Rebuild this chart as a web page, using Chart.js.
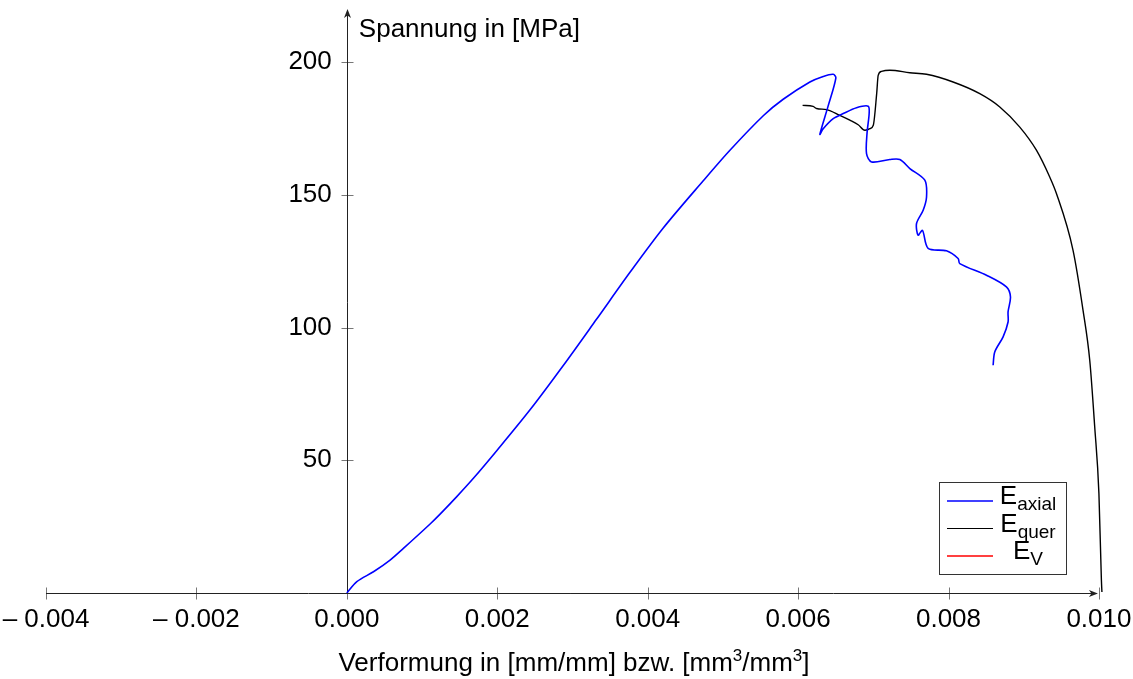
<!DOCTYPE html>
<html>
<head>
<meta charset="utf-8">
<script src="https://cdn.jsdelivr.net/npm/chart.js@4/dist/chart.umd.min.js"></script>
<style>
  html, body { margin: 0; padding: 0; background: #fff; }
  #wrap { width: 1133px; height: 679px; position: relative; }
</style>
</head>
<body>
<div id="wrap"><canvas id="c"></canvas></div>
<script>
// strain [mm/mm] / stress [MPa]
const axialStrain = [0, 0.000133, 0.000354, 0.000575, 0.000752, 0.001107, 0.001240, 0.001462, 0.001683, 0.001993,
  0.002436, 0.002878, 0.003322, 0.003765, 0.004207, 0.004739, 0.005094, 0.005537, 0.005802, 0.006157,
  0.006334, 0.006467, 0.006502, 0.006400, 0.006290, 0.006334, 0.006467, 0.006600, 0.006777, 0.006932,
  0.006945, 0.006918, 0.006910, 0.006977, 0.007220, 0.007353, 0.007486, 0.007685, 0.007708, 0.007663,
  0.007575, 0.007596, 0.007654, 0.007729, 0.007973, 0.008128, 0.008150, 0.008505, 0.008770, 0.008824,
  0.008792, 0.008792, 0.008726, 0.008615, 0.008593];
const axialStress = [0, 4.3, 8.0, 12.4, 16.8, 26.0, 29.7, 36.3, 43.2, 53.6,
  69.0, 85.7, 103.2, 120.8, 137.5, 155.3, 166.8, 179.8, 186.0, 192.5,
  194.6, 195.4, 194.0, 183.5, 172.8, 174.9, 178.7, 180.6, 182.8, 183.4,
  180.6, 173.6, 165.5, 162.4, 163.3, 163.3, 159.9, 155.5, 149.2, 144.2,
  139.2, 134.8, 136.6, 129.8, 128.9, 126.0, 124.1, 119.7, 115.3, 111.5,
  105.9, 102.1, 96.5, 90.8, 85.8];

const querStrain = [0.006060, 0.006200, 0.006246, 0.006379, 0.006555, 0.006688, 0.006799, 0.006888, 0.006954, 0.007000,
  0.007045, 0.007065, 0.007110, 0.007220, 0.007486, 0.007708, 0.008061, 0.008416, 0.008682, 0.008948,
  0.009169, 0.009346, 0.009435, 0.009656, 0.009789, 0.009878, 0.009944, 0.010000, 0.010033, 0.010040];
const querStress = [183.7, 183.3, 182.5, 182.1, 179.9, 178.1, 176.4, 174.3, 174.9, 176.2,
  188.1, 195.0, 196.5, 196.9, 196.0, 195.4, 192.5, 188.1, 183.1, 175.5,
  166.8, 156.7, 150.5, 129.1, 106.5, 87.7, 62.6, 37.5, 4.9, 0.4];

// E_V only shows up in the legend
const volStrain = [];
const volStress = [];

const seriesSubs = ['axial', 'quer', 'V'];
const seriesColors = ['#0000ff', '#000000', '#ff0000'];

const xTicks = [-0.004, -0.002, 0, 0.002, 0.004, 0.006, 0.008, 0.010];
const yTicks = [50, 100, 150, 200];

const FONT = "'Liberation Sans', Arial, Helvetica, sans-serif";

const toPoints = (xs, ys) => xs.map((v, i) => ({ x: v, y: ys[i] }));

// no label overflow padding, the chart area is set by layout.padding only
function noPadding(scale) {
  scale.paddingLeft = scale.paddingRight = scale.paddingTop = scale.paddingBottom = 0;
}

function drawArrow(ctx, x, y, dir) {
  ctx.save();
  ctx.translate(x, y);
  if (dir === 'up') ctx.rotate(-Math.PI / 2);
  ctx.beginPath();
  ctx.moveTo(0, 0);
  ctx.lineTo(-9, -3.5);
  ctx.lineTo(-6.5, 0);
  ctx.lineTo(-9, 3.5);
  ctx.closePath();
  ctx.fill();
  ctx.restore();
}

// text runs with sub/superscripts: [{t, size, shift}]
function runsWidth(ctx, runs) {
  let w = 0;
  runs.forEach(r => { ctx.font = r.size + 'px ' + FONT; w += ctx.measureText(r.t).width; });
  return w;
}
function drawRuns(ctx, runs, x, y) {
  ctx.textAlign = 'left';
  ctx.textBaseline = 'alphabetic';
  runs.forEach(r => {
    ctx.font = r.size + 'px ' + FONT;
    ctx.fillText(r.t, x, y + (r.shift || 0));
    x += ctx.measureText(r.t).width;
  });
}

const axesPlugin = {
  id: 'axes',
  beforeDatasetsDraw(chart) {
    const { ctx, scales: { x, y } } = chart;
    const x0 = Math.round(x.getPixelForValue(0)) + 0.5;
    const y0 = Math.round(y.getPixelForValue(0)) + 0.5;
    const xL = x.getPixelForValue(xTicks[0]);
    const xR = x.getPixelForValue(xTicks[xTicks.length - 1]);
    const yT = y.getPixelForValue(y.max);
    ctx.save();
    // ticks crossing the axes
    ctx.strokeStyle = '#777';
    ctx.lineWidth = 1;
    ctx.beginPath();
    xTicks.forEach(v => {
      const px = Math.round(x.getPixelForValue(v)) + 0.5;
      ctx.moveTo(px, y0 - 6); ctx.lineTo(px, y0 + 6);
    });
    yTicks.forEach(v => {
      const py = Math.round(y.getPixelForValue(v)) + 0.5;
      ctx.moveTo(x0 - 6, py); ctx.lineTo(x0 + 6, py);
    });
    ctx.stroke();
    // axis lines with arrows
    ctx.strokeStyle = '#222';
    ctx.fillStyle = '#222';
    ctx.beginPath();
    ctx.moveTo(xL, y0); ctx.lineTo(xR - 3, y0);
    ctx.moveTo(x0, y0); ctx.lineTo(x0, yT + 3);
    ctx.stroke();
    drawArrow(ctx, xR - 1, y0, 'right');
    drawArrow(ctx, x0, yT, 'up');
    ctx.restore();
  },
  afterDraw(chart) {
    const { ctx, scales: { x } } = chart;
    ctx.save();
    ctx.fillStyle = '#000';
    // axis titles
    drawRuns(ctx, [{ t: 'Spannung in [MPa]', size: 26 }], x.getPixelForValue(0) + 12, 37);
    const xTitle = [
      { t: 'Verformung in [mm/mm] bzw. [mm', size: 26 },
      { t: '3', size: 17, shift: -10 },
      { t: '/mm', size: 26 },
      { t: '3', size: 17, shift: -10 },
      { t: ']', size: 26 }
    ];
    drawRuns(ctx, xTitle, 574 - runsWidth(ctx, xTitle) / 2, 671);

    // legend box
    const bx = 939.5, by = 482.5, bw = 127, bh = 92;
    ctx.fillStyle = '#fff';
    ctx.fillRect(bx, by, bw, bh);
    ctx.strokeStyle = '#333';
    ctx.lineWidth = 1;
    ctx.strokeRect(bx, by, bw, bh);
    seriesSubs.forEach((sub, i) => {
      const ly = 501 + i * 27.5;
      ctx.strokeStyle = seriesColors[i];
      ctx.lineWidth = i === 1 ? 1 : 1.3;
      ctx.beginPath();
      ctx.moveTo(947, ly); ctx.lineTo(993, ly);
      ctx.stroke();
      const runs = [{ t: 'E', size: 26 }, { t: sub, size: 19, shift: 6 }];
      ctx.fillStyle = '#000';
      drawRuns(ctx, runs, 1028 - runsWidth(ctx, runs) / 2, ly + 3);
    });
    ctx.restore();
  }
};

new Chart(document.getElementById('c'), {
  type: 'line',
  data: {
    datasets: [
      { label: 'E axial', data: toPoints(axialStrain, axialStress), borderColor: seriesColors[0], borderWidth: 1.6, tension: 0.3 },
      { label: 'E quer', data: toPoints(querStrain, querStress), borderColor: seriesColors[1], borderWidth: 1.4, cubicInterpolationMode: 'monotone' },
      { label: 'E V', data: toPoints(volStrain, volStress), borderColor: seriesColors[2], borderWidth: 1.4 }
    ]
  },
  options: {
    responsive: true,
    maintainAspectRatio: false,
    animation: false,
    layout: { padding: { left: 46, right: 4, top: 9, bottom: 86 } },
    elements: { point: { radius: 0 }, line: { fill: false } },
    plugins: { legend: { display: false }, tooltip: { enabled: false } },
    scales: {
      x: {
        type: 'linear',
        min: -0.004,
        max: 0.0104,
        position: { y: 0 },
        grid: { display: false },
        border: { display: false },
        afterBuildTicks: s => { s.ticks = xTicks.map(v => ({ value: v })); },
        afterFit: noPadding,
        ticks: {
          padding: 3,
          color: '#000',
          font: { family: FONT, size: 26 },
          maxRotation: 0,
          autoSkip: false,
          callback: v => (v < 0 ? '\u2013 ' + Math.abs(v).toFixed(3) : v.toFixed(3))
        }
      },
      y: {
        type: 'linear',
        min: 0,
        max: 220,
        // labels sit right-aligned at this x value, just left of the y axis at 0
        position: { x: -0.0002 },
        grid: { display: false },
        border: { display: false },
        afterBuildTicks: s => { s.ticks = yTicks.map(v => ({ value: v })); },
        afterFit: noPadding,
        ticks: {
          color: '#000',
          font: { family: FONT, size: 26 },
          autoSkip: false
        }
      }
    }
  },
  plugins: [axesPlugin]
});
</script>
</body>
</html>
